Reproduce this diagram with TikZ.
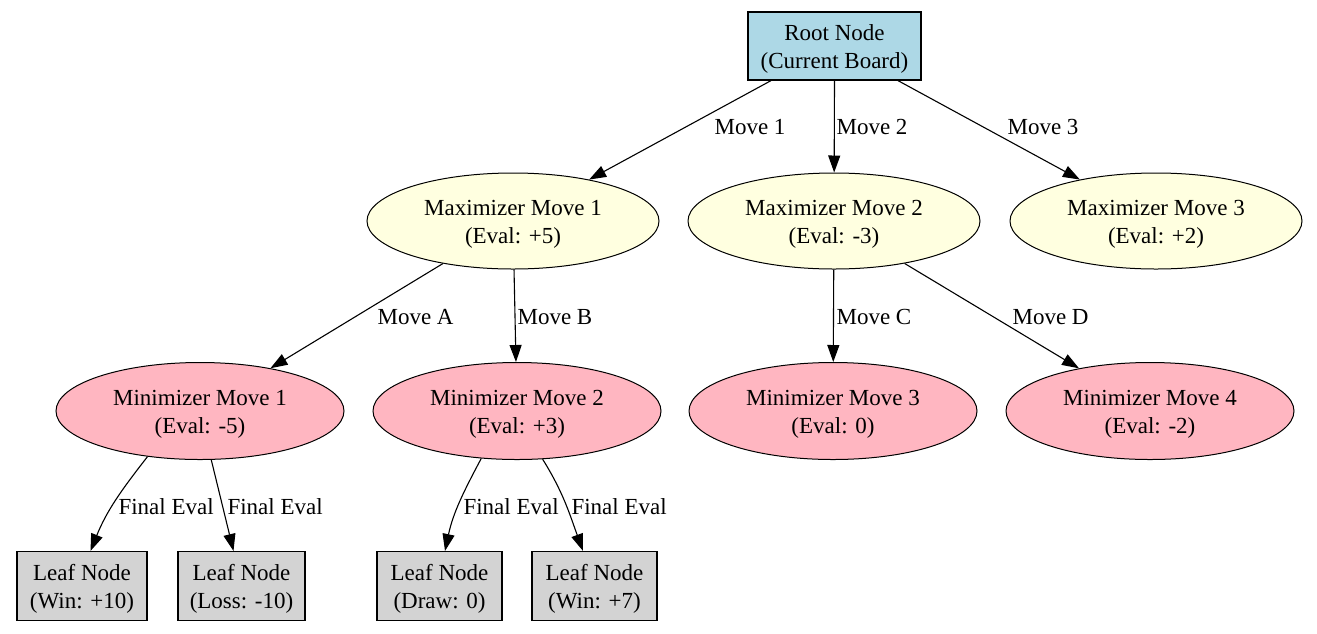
\documentclass[tikz,border=0pt]{standalone}
\usepackage{fontspec}
\setmainfont{Liberation Serif}
\usetikzlibrary{shapes.geometric,arrows.meta}
\definecolor{lblue}{HTML}{ADD8E6}
\definecolor{lyellow}{HTML}{FFFFE0}
\definecolor{lpink}{HTML}{FFB6C1}
\definecolor{lgray}{HTML}{D3D3D3}
\begin{document}
\begin{tikzpicture}[x=1pt,y=-1pt,
  every node/.style={font=\fontsize{23}{28}\selectfont, inner sep=0pt},
  twoline/.style={align=center, text height=44.5pt, text depth=0pt},
  box/.style={twoline, draw, line width=1.1pt, rectangle, minimum height=68pt},
  maxn/.style={twoline, draw, line width=1pt, ellipse, fill=lyellow, minimum width=292pt, minimum height=96pt},
  minn/.style={twoline, draw, line width=1pt, ellipse, fill=lpink, minimum width=288pt, minimum height=97pt},
  leaf/.style={box, fill=lgray, minimum height=69pt},
  edge/.style={draw, line width=1.1pt, -{Triangle[length=17pt,width=12pt]}},
  lbl/.style={anchor=west, fill=none}
]
\useasboundingbox (0,0) rectangle (1317,633);

\node[box, fill=lblue, minimum width=173pt] (root) at (834.5,46) {Root Node\\(Current Board)};

\node[maxn] (max1) at (513,221) {Maximizer Move 1\\(Eval: +5)};
\node[maxn] (max2) at (834,221) {Maximizer Move 2\\(Eval: -3)};
\node[maxn] (max3) at (1156,221) {Maximizer Move 3\\(Eval: +2)};

\node[minn] (min1) at (200,411) {Minimizer Move 1\\(Eval: -5)};
\node[minn] (min2) at (517,411) {Minimizer Move 2\\(Eval: +3)};
\node[minn] (min3) at (833,411) {Minimizer Move 3\\(Eval: 0)};
\node[minn] (min4) at (1150,411) {Minimizer Move 4\\(Eval: -2)};

\node[leaf, minimum width=130pt] (leaf1) at (82,586) {Leaf Node\\(Win: +10)};
\node[leaf, minimum width=127pt] (leaf2) at (241.5,586) {Leaf Node\\(Loss: -10)};
\node[leaf, minimum width=125pt] (leaf3) at (439.5,586) {Leaf Node\\(Draw: 0)};
\node[leaf, minimum width=125pt] (leaf4) at (594.5,586) {Leaf Node\\(Win: +7)};

\path[edge] (root) -- (max1) node[lbl] at (714,127) {Move 1};
\path[edge] (root.south) -- (max2) node[lbl] at (836,127) {Move 2};
\path[edge] (root) -- (max3) node[lbl] at (1007,127) {Move 3};

\path[edge] (max1) -- (min1) node[lbl] at (377,317) {Move A};
\path[edge] (max1) -- (min2) node[lbl] at (517,317) {Move B};
\path[edge] (max2) -- (min3) node[lbl] at (836,317) {Move C};
\path[edge] (max2) -- (min4) node[lbl] at (1012,317) {Move D};

\path[edge] (min1.221) to[out=232,in=68] ([xshift=8.5pt]leaf1.north) node[lbl] at (118,507) {Final Eval};
\path[edge] (min1.283) -- ([xshift=-8pt]leaf2.north) node[lbl] at (227,507) {Final Eval};
\path[edge] (min2.233) to[out=242,in=78] ([xshift=5.5pt]leaf3.north) node[lbl] at (463,507) {Final Eval};
\path[edge] (min2.298) to[out=-58,in=110] ([xshift=-11.5pt]leaf4.north) node[lbl] at (571,507) {Final Eval};
\end{tikzpicture}
\end{document}
